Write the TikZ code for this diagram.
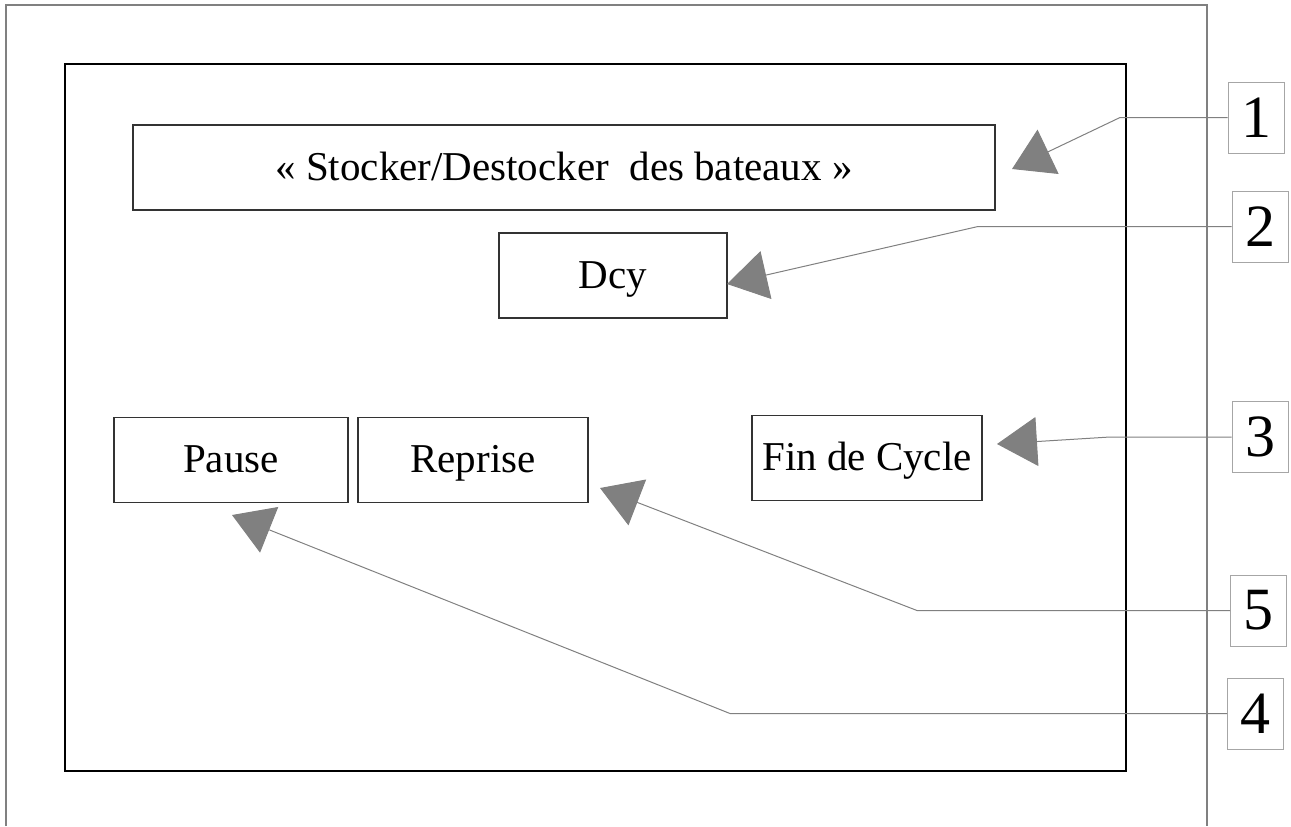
\documentclass[tikz,border=0pt]{standalone}
\usepackage{fontspec}
\setmainfont{Liberation Serif}
\usetikzlibrary{arrows.meta}

\begin{document}
\begin{tikzpicture}[x=0.5pt,y=-0.5pt,
boite/.style={draw=black!80,line width=0.6pt,inner sep=0pt,minimum height=42.5pt,text height=1.5em,text depth=0.22em,font=\fontsize{20.5}{24}\selectfont},
num/.style={draw=black!35,line width=0.5pt,inner sep=0pt,minimum width=28pt,minimum height=35.5pt,font=\fontsize{30}{36}\selectfont},
fleche/.style={draw=black!50,line width=0.5pt,-{Triangle[length=20pt,width=24.5pt]}}]
\useasboundingbox (0,0) rectangle (1291,826);
\draw[black!50,line width=1pt](6,826)--(6,5)--(1207,5)--(1207,826);
\draw[line width=0.8pt](65,64) rectangle (1126,771);
\node[boite,minimum width=431pt](titre) at (564,167.5){« Stocker/Destocker~ des bateaux »};
\node[boite,minimum width=114pt](dcy) at (613,275.5){Dcy};
\node[boite,minimum width=117pt](pause) at (231,460){Pause};
\node[boite,minimum width=115pt](reprise) at (473,460){Reprise};
\node[boite,minimum width=115pt](fin) at (867,458){Fin de Cycle};
\node[num](n1) at (1256,117.5){1};
\node[num](n2) at (1260,226.5){2};
\node[num](n3) at (1260,437){3};
\node[num](n5) at (1258.5,610.5){5};
\node[num](n4) at (1255.5,713.5){4};
\coordinate (b1) at (1120,117.5);
\coordinate (b2) at (978,226.5);
\coordinate (b3) at (1110,437);
\coordinate (b5) at (917,610.5);
\coordinate (b4) at (730,713.5);
\coordinate (t1) at (1012,169);
\coordinate (t2) at (727,284);
\coordinate (t3) at (997,444);
\coordinate (t5) at (600,488);
\coordinate (t4) at (232,515);
\draw[fleche](n1.west)--(b1)--(t1);
\draw[fleche](n2.west)--(b2)--(t2);
\draw[fleche](n3.west)--(b3)--(t3);
\draw[fleche](n5.west)--(b5)--(t5);
\draw[fleche](n4.west)--(b4)--(t4);
\end{tikzpicture}
\end{document}
